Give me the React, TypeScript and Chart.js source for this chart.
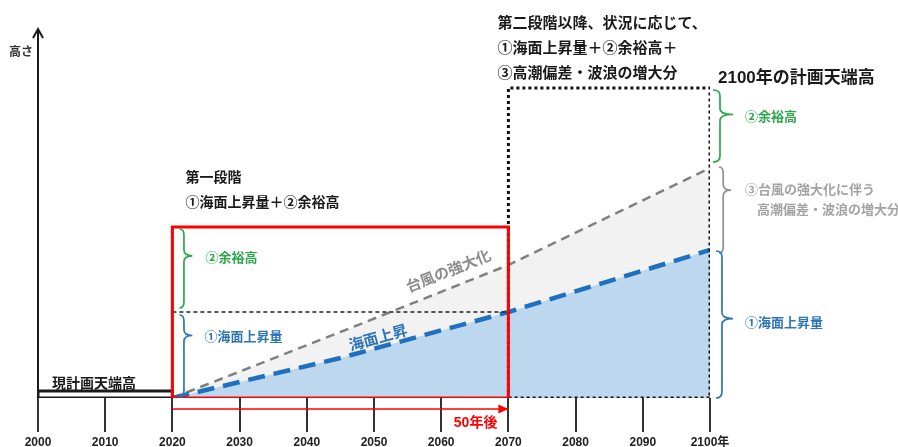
import React, { useEffect, useRef } from 'react';
import { Chart, registerables } from 'chart.js';

Chart.register(...registerables);

// ---- data ----
const years = [2020, 2045, 2070, 2100];
const seaLevelRise = [0, 40, 86, 148];
const typhoonSurge = [0, 66, 133, 230];

const currentPlanYears = [2000, 2020];
const currentPlanHeight = 7;

const stage1Years = [2020, 2070];
const stage1SeaLevel = 86;
const stage1Top = 171;

const stage2Years = [2070, 2100];
const stage2Top = 310;

const arrowLevel = -11;

const xTickValues = [2000, 2010, 2020, 2030, 2040, 2050, 2060, 2070, 2080, 2090, 2100];
const xTickLabels = ['2000', '2010', '2020', '2030', '2040', '2050', '2060', '2070', '2080', '2090', '2100年'];

const yAxisLabel = '高さ';
const currentPlanLabel = '現計画天端高';
const stage1Lines = ['第一段階', '①海面上昇量＋②余裕高'];
const stage2Lines = ['第二段階以降、状況に応じて、', '①海面上昇量＋②余裕高＋', '③高潮偏差・波浪の増大分'];
const plan2100Label = '2100年の計画天端高';
const marginLabel = '②余裕高';
const seaRiseLabel = '①海面上昇量';
const surgeLabelLines = ['③台風の強大化に伴う', '高潮偏差・波浪の増大分'];
const typhoonLineLabel = '台風の強大化';
const seaLineLabel = '海面上昇';
const afterLabel = '50年後';

// ---- styles ----
const JP = '"Noto Sans CJK JP", "Noto Sans", sans-serif';
const LAT = '"Liberation Sans", "Noto Sans CJK JP", sans-serif';
const RED = '#ff0000';
const GREEN = '#2aa84a';
const BLUE = '#2e75b6';
const SEA_LINE = '#1f70c0';
const GRAY_LINE = '#808080';
const GRAY_TEXT = '#a3a3a3';
const DARK = '#1a1a1a';

const pts = (xs: number[], ys: number[]) => xs.map((x, i) => ({ x, y: ys[i] }));
const rect = (x0: number, x1: number, top: number) => [
  { x: x0, y: 0 }, { x: x0, y: top }, { x: x1, y: top }, { x: x1, y: 0 }, { x: x0, y: 0 },
];

function brace(ctx: CanvasRenderingContext2D, x: number, yTop: number, yBot: number, w: number, tipFrac: number, color: string) {
  const s = x + w * 0.35;
  const tip = x + w;
  const mid = yTop + (yBot - yTop) * tipFrac;
  const r = Math.min(6, (yBot - yTop) / 5);
  ctx.strokeStyle = color;
  ctx.lineWidth = 1.7;
  ctx.beginPath();
  ctx.moveTo(x, yTop);
  ctx.quadraticCurveTo(s, yTop, s, yTop + r);
  ctx.lineTo(s, mid - r);
  ctx.quadraticCurveTo(s, mid, tip, mid);
  ctx.quadraticCurveTo(s, mid, s, mid + r);
  ctx.lineTo(s, yBot - r);
  ctx.quadraticCurveTo(s, yBot, x, yBot);
  ctx.stroke();
  return { tipX: tip, tipY: mid };
}

function text(ctx: CanvasRenderingContext2D, s: string, x: number, y: number, font: string, color: string, align: CanvasTextAlign = 'left') {
  ctx.font = font;
  ctx.fillStyle = color;
  ctx.textAlign = align;
  ctx.textBaseline = 'middle';
  ctx.fillText(s, x, y);
}

function pointOn(X: (v: number) => number, Y: (v: number) => number, xs: number[], ys: number[], year: number) {
  let i = 0;
  while (i < xs.length - 2 && year > xs[i + 1]) i++;
  const f = (year - xs[i]) / (xs[i + 1] - xs[i]);
  const x0 = X(xs[i]), y0 = Y(ys[i]), x1 = X(xs[i + 1]), y1 = Y(ys[i + 1]);
  return { x: x0 + (x1 - x0) * f, y: y0 + (y1 - y0) * f, angle: Math.atan2(y1 - y0, x1 - x0) };
}

function rotatedText(ctx: CanvasRenderingContext2D, s: string, p: { x: number; y: number; angle: number }, offset: number, font: string, color: string) {
  const nx = Math.sin(p.angle), ny = -Math.cos(p.angle);
  ctx.save();
  ctx.translate(p.x + nx * offset, p.y + ny * offset);
  ctx.rotate(p.angle);
  ctx.font = font;
  ctx.fillStyle = color;
  ctx.textAlign = 'center';
  ctx.textBaseline = 'middle';
  ctx.fillText(s, 0, 0);
  ctx.restore();
}

const overlay = {
  id: 'overlay',
  afterDatasetsDraw(chart: any) {
    const ctx: CanvasRenderingContext2D = chart.ctx;
    const xs = chart.scales.x, ys = chart.scales.y;
    const X = (v: number) => xs.getPixelForValue(v);
    const Y = (v: number) => ys.getPixelForValue(v);
    const area = chart.chartArea;
    ctx.save();

    // y axis arrow
    const ax = X(2000);
    ctx.strokeStyle = DARK;
    ctx.lineWidth = 2;
    ctx.beginPath();
    ctx.moveTo(ax, Y(0));
    ctx.lineTo(ax, area.top + 1);
    ctx.stroke();
    ctx.beginPath();
    ctx.moveTo(ax - 5, area.top + 10);
    ctx.lineTo(ax, area.top + 1);
    ctx.lineTo(ax + 5, area.top + 10);
    ctx.stroke();
    text(ctx, yAxisLabel, ax - 5, area.top + 23, `bold 12px ${JP}`, '#333', 'right');

    // red arrow head
    const ahx = X(stage1Years[1]), ahy = Y(arrowLevel);
    ctx.fillStyle = RED;
    ctx.beginPath();
    ctx.moveTo(ahx, ahy);
    ctx.lineTo(ahx - 10, ahy - 4.5);
    ctx.lineTo(ahx - 10, ahy + 4.5);
    ctx.closePath();
    ctx.fill();
    text(ctx, afterLabel, ahx - 11, ahy + 14, `bold 14px ${LAT}`, RED, 'right');

    // current plan label
    text(ctx, currentPlanLabel, X(2000) + 14, Y(currentPlanHeight) - 8, `bold 14px ${JP}`, DARK);

    // stage 1 texts
    const s1x = X(stage1Years[0]) + 13;
    text(ctx, stage1Lines[0], s1x, 177, `bold 14px ${JP}`, DARK);
    text(ctx, stage1Lines[1], s1x, 202, `bold 14px ${JP}`, DARK);

    // stage 2 texts
    const s2x = X(stage2Years[0]) - 11;
    stage2Lines.forEach((s, i) => text(ctx, s, s2x, 22 + i * 25, `bold 15px ${JP}`, DARK));
    text(ctx, plan2100Label, X(stage2Years[1]) + 8, 78, `bold 17px ${LAT}`, DARK);

    // left braces
    const lbx = X(stage1Years[0]) + 7;
    const g1 = brace(ctx, lbx, Y(stage1Top) + 2, Y(stage1SeaLevel) - 4, 13, 0.34, GREEN);
    text(ctx, marginLabel, g1.tipX + 13, g1.tipY + 1, `bold 13px ${JP}`, GREEN);
    const b1 = brace(ctx, lbx, Y(stage1SeaLevel) + 3, Y(0) - 1, 13, 0.25, BLUE);
    text(ctx, seaRiseLabel, b1.tipX + 12, b1.tipY + 1, `bold 13px ${JP}`, BLUE);

    // right braces
    const rbx = X(stage2Years[1]) + 3;
    const last = years.length - 1;
    const g2 = brace(ctx, rbx, Y(stage2Top) + 2, Y(typhoonSurge[last]) - 6, 20, 0.34, GREEN);
    text(ctx, marginLabel, g2.tipX + 12, g2.tipY + 2, `bold 13px ${JP}`, GREEN);
    const gr = brace(ctx, rbx + 6, Y(typhoonSurge[last]) - 1, Y(seaLevelRise[last]) + 3, 12, 0.27, '#909090');
    text(ctx, surgeLabelLines[0], g2.tipX + 12, gr.tipY - 1, `bold 13px ${JP}`, GRAY_TEXT);
    text(ctx, surgeLabelLines[1], g2.tipX + 24, gr.tipY + 19, `bold 13px ${JP}`, GRAY_TEXT);
    const b2 = brace(ctx, rbx + 3, Y(seaLevelRise[last]) + 1, Y(0), 17, 0.46, BLUE);
    text(ctx, seaRiseLabel, g2.tipX + 12, b2.tipY + 3, `bold 13px ${JP}`, BLUE);

    // line labels
    rotatedText(ctx, typhoonLineLabel, pointOn(X, Y, years, typhoonSurge, 2062), 17, `bold 15px ${JP}`, '#8c8c8c');
    rotatedText(ctx, seaLineLabel, pointOn(X, Y, years, seaLevelRise, 2051), 10, `bold 15px ${JP}`, BLUE);

    ctx.restore();
  },
};

export default function App() {
  const ref = useRef<HTMLCanvasElement | null>(null);
  useEffect(() => {
    if (!ref.current) return;
    const chart = new Chart(ref.current, {
      type: 'line',
      data: {
        datasets: [
          {
            label: 'sea',
            data: pts(years, seaLevelRise),
            borderColor: SEA_LINE,
            borderWidth: 4.5,
            borderDash: [17, 9],
            backgroundColor: '#bdd7ee',
            fill: 'origin',
            pointRadius: 0,
            order: 5,
          },
          {
            label: 'typhoon',
            data: pts(years, typhoonSurge),
            borderColor: GRAY_LINE,
            borderWidth: 2.5,
            borderDash: [9, 6],
            backgroundColor: '#f2f2f2',
            fill: '-1',
            pointRadius: 0,
            order: 6,
          },
          {
            label: 'current',
            data: rect(currentPlanYears[0], currentPlanYears[1], currentPlanHeight),
            borderColor: DARK,
            borderWidth: 3,
            fill: false,
            pointRadius: 0,
            order: 3,
          },
          {
            label: 'stage1 sea',
            data: pts(stage1Years, [stage1SeaLevel, stage1SeaLevel]),
            borderColor: '#222',
            borderWidth: 1.5,
            borderDash: [4, 3],
            fill: false,
            pointRadius: 0,
            order: 3,
          },
          {
            label: 'stage2',
            data: rect(stage2Years[0], stage2Years[1], stage2Top),
            borderColor: '#111',
            borderWidth: 3,
            borderDash: [3, 3],
            fill: false,
            pointRadius: 0,
            order: 2,
          },
          {
            label: 'stage1',
            data: rect(stage1Years[0], stage1Years[1], stage1Top),
            borderColor: RED,
            borderWidth: 3,
            fill: false,
            pointRadius: 0,
            order: 1,
          },
          {
            label: 'arrow',
            data: pts(stage1Years, [arrowLevel, arrowLevel]),
            borderColor: RED,
            borderWidth: 1.5,
            fill: false,
            pointRadius: 0,
            clip: false,
            order: 1,
          },
        ],
      },
      options: {
        responsive: false,
        maintainAspectRatio: false,
        animation: false,
        layout: { padding: { left: 38, right: 188, top: 28, bottom: 0 } },
        elements: { line: { tension: 0 } },
        plugins: { legend: { display: false }, tooltip: { enabled: false } },
        scales: {
          x: {
            type: 'linear',
            position: 'bottom',
            min: 2000,
            max: 2100,
            border: { display: false },
            grid: { drawOnChartArea: false, drawTicks: true, tickLength: 34, lineWidth: 2, color: '#333' },
            afterBuildTicks: (scale: any) => {
              scale.ticks = xTickValues.map((v) => ({ value: v }));
            },
            afterFit: (scale: any) => {
              scale.height = 49;
            },
            ticks: {
              autoSkip: false,
              maxRotation: 0,
              padding: 3,
              color: '#222',
              font: { family: LAT, size: 12, weight: 'bold' },
              callback: (_v: any, i: number) => xTickLabels[i],
            },
          },
          y: {
            type: 'linear',
            display: false,
            min: 0,
            max: 370,
          },
        },
      },
      plugins: [overlay],
    } as any);
    return () => chart.destroy();
  }, []);
  return (
    <div style={{ position: 'fixed', left: 0, top: 0, width: 898, height: 447, background: '#fff' }}>
      <canvas ref={ref} width={898} height={447} style={{ display: 'block' }} />
    </div>
  );
}
